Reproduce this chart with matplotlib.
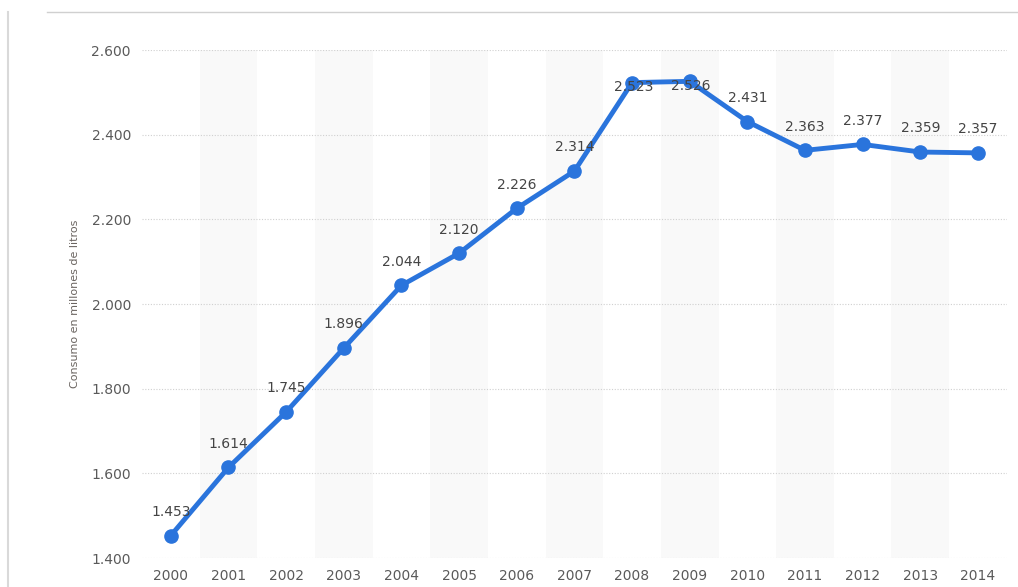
import matplotlib.pyplot as plt
from matplotlib.lines import Line2D

years = [2000, 2001, 2002, 2003, 2004, 2005, 2006, 2007, 2008, 2009, 2010, 2011, 2012, 2013, 2014]
consumo = [1.453, 1.614, 1.745, 1.896, 2.044, 2.120, 2.226, 2.314, 2.523, 2.526, 2.431, 2.363, 2.377, 2.359, 2.357]
yticks = [1.4, 1.6, 1.8, 2.0, 2.2, 2.4, 2.6]

fig = plt.figure(figsize=(10.18, 5.87), dpi=100)
ax = fig.add_axes([0.1395, 0.0494, 0.8495, 0.8654])

x = list(range(len(years)))

# alternating bands
for i in x:
    if i % 2 == 1:
        ax.axvspan(i - 0.5, i + 0.5, color='#f9f9f9', zorder=0, lw=0)

for v in yticks:
    ax.axhline(v, color='#d0d0d0', linestyle=(0, (1, 1.5)), lw=0.8, zorder=1)

ax.plot(x, consumo, '-o', color='#2a74dc', lw=3.5, markersize=9.5, zorder=3)

for xi, v in zip(x, consumo):
    if v > 2.5:
        # no room above: label sits on the point
        off, va = (1, -3), 'center'
    else:
        off, va = (0, 12), 'bottom'
    ax.annotate(f"{v:.3f}", (xi, v), xytext=off,
                textcoords='offset points', ha='center', va=va,
                fontsize=10, color='#444444', zorder=4)

ax.set_xlim(-0.5, len(years) - 0.5)
ax.set_ylim(1.4, 2.6)
ax.set_xticks(x)
ax.set_xticklabels([str(y) for y in years], fontsize=10, color='#5a5a5a')
ax.set_yticks(yticks)
ax.set_yticklabels([f"{v:.3f}" for v in yticks], fontsize=10, color='#5a5a5a')
ax.tick_params(length=0, pad=8)
ax.tick_params(axis='y', pad=8)
for s in ax.spines.values():
    s.set_visible(False)

ax.set_ylabel('Consumo en millones de litros', fontsize=8, color='#6a6460', labelpad=8)

# frame lines of the page
fig.add_artist(Line2D([0.008, 0.008], [0, 0.98], color='#d9d9d9', lw=1.5))
fig.add_artist(Line2D([0.046, 1.0], [0.98, 0.98], color='#d0d0d0', lw=1))

fig.savefig('out.png', dpi=100)
